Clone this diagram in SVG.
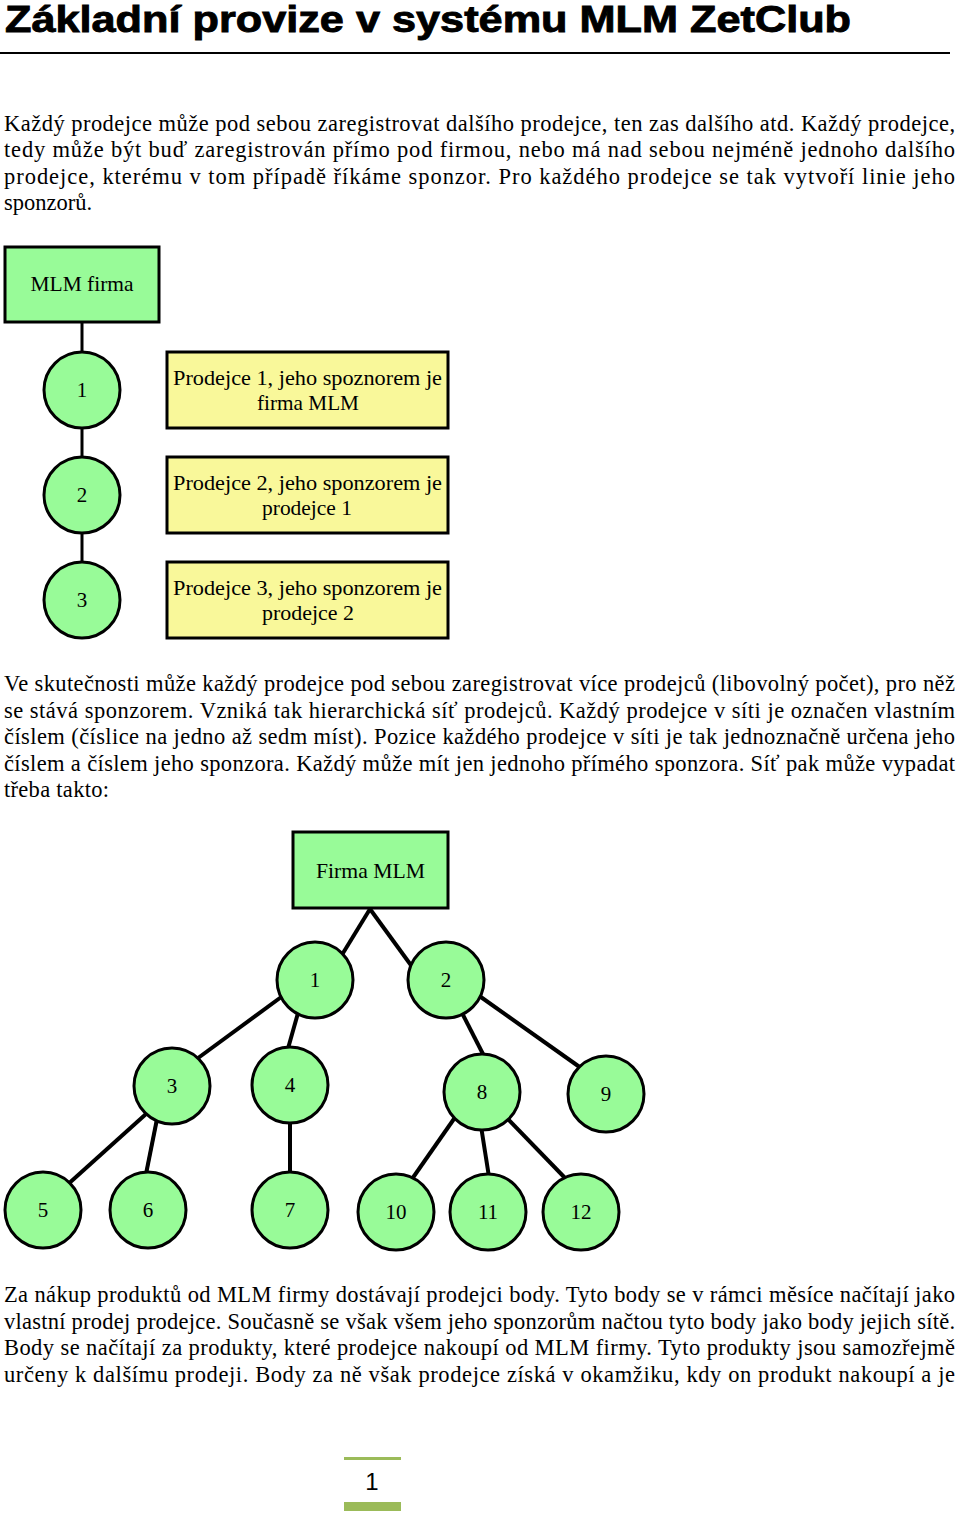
<svg xmlns="http://www.w3.org/2000/svg" width="960" height="1516" viewBox="0 0 960 1516">
<style>
.title{font-family:"Liberation Sans",Arial,sans-serif;font-weight:bold;font-size:37px;fill:#000;stroke:#000;stroke-width:0.9}
.p{font-family:"Liberation Serif","Times New Roman",serif;font-size:22.5px;fill:#000}
.lbl{font-family:"Liberation Serif","Times New Roman",serif;font-size:21px;fill:#000;text-anchor:middle}
.num{font-family:"Liberation Serif","Times New Roman",serif;font-size:21px;fill:#000;text-anchor:middle}
.gbox{fill:#98FB98;stroke:#000;stroke-width:3}
.ybox{fill:#F9F89A;stroke:#000;stroke-width:3}
.node{fill:#98FB98;stroke:#000;stroke-width:3}
.edge{stroke:#000;stroke-width:3;fill:none}
.edge2{stroke:#000;stroke-width:4;fill:none}
.pg{font-family:"Liberation Sans",Arial,sans-serif;font-size:24px;fill:#000;text-anchor:middle}
</style>

<text class="title" x="5" y="32" textLength="846" lengthAdjust="spacingAndGlyphs">Základní provize v systému MLM ZetClub</text>
<line x1="0" y1="53" x2="950" y2="53" stroke="#000" stroke-width="2"/>

<g id="para1">
<text class="p" x="4" y="130.5" textLength="951" lengthAdjust="spacing">Každý prodejce může pod sebou zaregistrovat dalšího prodejce, ten zas dalšího atd. Každý prodejce,</text>
<text class="p" x="4" y="157" textLength="951" lengthAdjust="spacing">tedy může být buď zaregistrován přímo pod firmou, nebo má nad sebou nejméně jednoho dalšího</text>
<text class="p" x="4" y="183.5" textLength="951" lengthAdjust="spacing">prodejce, kterému v tom případě říkáme sponzor. Pro každého prodejce se tak vytvoří linie jeho</text>
<text class="p" x="4" y="210" textLength="88" lengthAdjust="spacing">sponzorů.</text>
</g>

<g id="d1-connectors">
<line class="edge" x1="82" y1="322" x2="82" y2="353"/>
<line class="edge" x1="82" y1="427" x2="82" y2="458"/>
<line class="edge" x1="82" y1="532" x2="82" y2="563"/>
</g>
<g id="d1-firma">
<rect class="gbox" x="5" y="247" width="154" height="75"/>
<text class="lbl" x="82" y="291" textLength="103" lengthAdjust="spacingAndGlyphs">MLM firma</text>
</g>
<g id="d1-n1"><circle class="node" cx="82" cy="390" r="38"/><text class="num" x="82" y="397">1</text></g>
<g id="d1-n2"><circle class="node" cx="82" cy="495" r="38"/><text class="num" x="82" y="502">2</text></g>
<g id="d1-n3"><circle class="node" cx="82" cy="600" r="38"/><text class="num" x="82" y="607">3</text></g>
<g id="d1-b1">
<rect class="ybox" x="167" y="352" width="281" height="76"/>
<text class="lbl" x="307.5" y="385" textLength="269" lengthAdjust="spacingAndGlyphs">Prodejce 1, jeho spoznorem je</text>
<text class="lbl" x="308" y="410" textLength="102" lengthAdjust="spacingAndGlyphs">firma MLM</text>
</g>
<g id="d1-b2">
<rect class="ybox" x="167" y="457" width="281" height="76"/>
<text class="lbl" x="307.5" y="490" textLength="269" lengthAdjust="spacingAndGlyphs">Prodejce 2, jeho sponzorem je</text>
<text class="lbl" x="307" y="515" textLength="90" lengthAdjust="spacingAndGlyphs">prodejce 1</text>
</g>
<g id="d1-b3">
<rect class="ybox" x="167" y="562" width="281" height="76"/>
<text class="lbl" x="307.5" y="595" textLength="269" lengthAdjust="spacingAndGlyphs">Prodejce 3, jeho sponzorem je</text>
<text class="lbl" x="308" y="620" textLength="92" lengthAdjust="spacingAndGlyphs">prodejce 2</text>
</g>

<g id="para2">
<text class="p" x="4" y="691" textLength="951" lengthAdjust="spacing">Ve skutečnosti může každý prodejce pod sebou zaregistrovat více prodejců (libovolný počet), pro něž</text>
<text class="p" x="4" y="717.5" textLength="951" lengthAdjust="spacing">se stává sponzorem. Vzniká tak hierarchická síť prodejců. Každý prodejce v síti je označen vlastním</text>
<text class="p" x="4" y="744" textLength="951" lengthAdjust="spacing">číslem (číslice na jedno až sedm míst). Pozice každého prodejce v síti je tak jednoznačně určena jeho</text>
<text class="p" x="4" y="770.5" textLength="951" lengthAdjust="spacing">číslem a číslem jeho sponzora. Každý může mít jen jednoho přímého sponzora. Síť pak může vypadat</text>
<text class="p" x="4" y="797" textLength="105" lengthAdjust="spacing">třeba takto:</text>
</g>

<g id="d2-connectors">
<line class="edge2" x1="370" y1="909" x2="340" y2="958"/>
<line class="edge2" x1="370" y1="909" x2="413" y2="968"/>
<line class="edge2" x1="284" y1="995" x2="194" y2="1061"/>
<line class="edge2" x1="298" y1="1013" x2="287" y2="1052"/>
<line class="edge2" x1="461" y1="1011" x2="484" y2="1056"/>
<line class="edge2" x1="478" y1="995" x2="581" y2="1068"/>
<line class="edge2" x1="146" y1="1114" x2="66" y2="1186"/>
<line class="edge2" x1="157" y1="1119" x2="146" y2="1174"/>
<line class="edge2" x1="290" y1="1120" x2="290" y2="1176"/>
<line class="edge2" x1="456" y1="1116" x2="412" y2="1179"/>
<line class="edge2" x1="481" y1="1126" x2="489" y2="1177"/>
<line class="edge2" x1="506" y1="1117" x2="567" y2="1180"/>
</g>
<g id="d2-firma">
<rect class="gbox" x="293" y="832" width="155" height="76"/>
<text class="lbl" x="370.5" y="878" textLength="109" lengthAdjust="spacingAndGlyphs">Firma MLM</text>
</g>
<g id="d2-n1"><circle class="node" cx="315" cy="980" r="38"/><text class="num" x="315" y="987">1</text></g>
<g id="d2-n2"><circle class="node" cx="446" cy="980" r="38"/><text class="num" x="446" y="987">2</text></g>
<g id="d2-n3"><circle class="node" cx="172" cy="1086" r="38"/><text class="num" x="172" y="1093">3</text></g>
<g id="d2-n4"><circle class="node" cx="290" cy="1085" r="38"/><text class="num" x="290" y="1092">4</text></g>
<g id="d2-n8"><circle class="node" cx="482" cy="1092" r="38"/><text class="num" x="482" y="1099">8</text></g>
<g id="d2-n9"><circle class="node" cx="606" cy="1094" r="38"/><text class="num" x="606" y="1101">9</text></g>
<g id="d2-n5"><circle class="node" cx="43" cy="1210" r="38"/><text class="num" x="43" y="1217">5</text></g>
<g id="d2-n6"><circle class="node" cx="148" cy="1210" r="38"/><text class="num" x="148" y="1217">6</text></g>
<g id="d2-n7"><circle class="node" cx="290" cy="1210" r="38"/><text class="num" x="290" y="1217">7</text></g>
<g id="d2-n10"><circle class="node" cx="396" cy="1212" r="38"/><text class="num" x="396" y="1219">10</text></g>
<g id="d2-n11"><circle class="node" cx="488" cy="1212" r="38"/><text class="num" x="488" y="1219">11</text></g>
<g id="d2-n12"><circle class="node" cx="581" cy="1212" r="38"/><text class="num" x="581" y="1219">12</text></g>

<g id="para3">
<text class="p" x="4" y="1302" textLength="951" lengthAdjust="spacing">Za nákup produktů od MLM firmy dostávají prodejci body. Tyto body se v rámci měsíce načítají jako</text>
<text class="p" x="4" y="1328.5" textLength="951" lengthAdjust="spacing">vlastní prodej prodejce. Současně se však všem jeho sponzorům načtou tyto body jako body jejich sítě.</text>
<text class="p" x="4" y="1355" textLength="951" lengthAdjust="spacing">Body se načítají za produkty, které prodejce nakoupí od MLM firmy. Tyto produkty jsou samozřejmě</text>
<text class="p" x="4" y="1381.5" textLength="951" lengthAdjust="spacing">určeny k dalšímu prodeji. Body za ně však prodejce získá v okamžiku, kdy on produkt nakoupí a je</text>
</g>

<g id="footer">
<rect x="344" y="1457" width="57" height="3" fill="#9BBB59"/>
<text class="pg" x="372" y="1490">1</text>
<rect x="344" y="1502" width="57" height="9" fill="#9BBB59"/>
</g>
</svg>
